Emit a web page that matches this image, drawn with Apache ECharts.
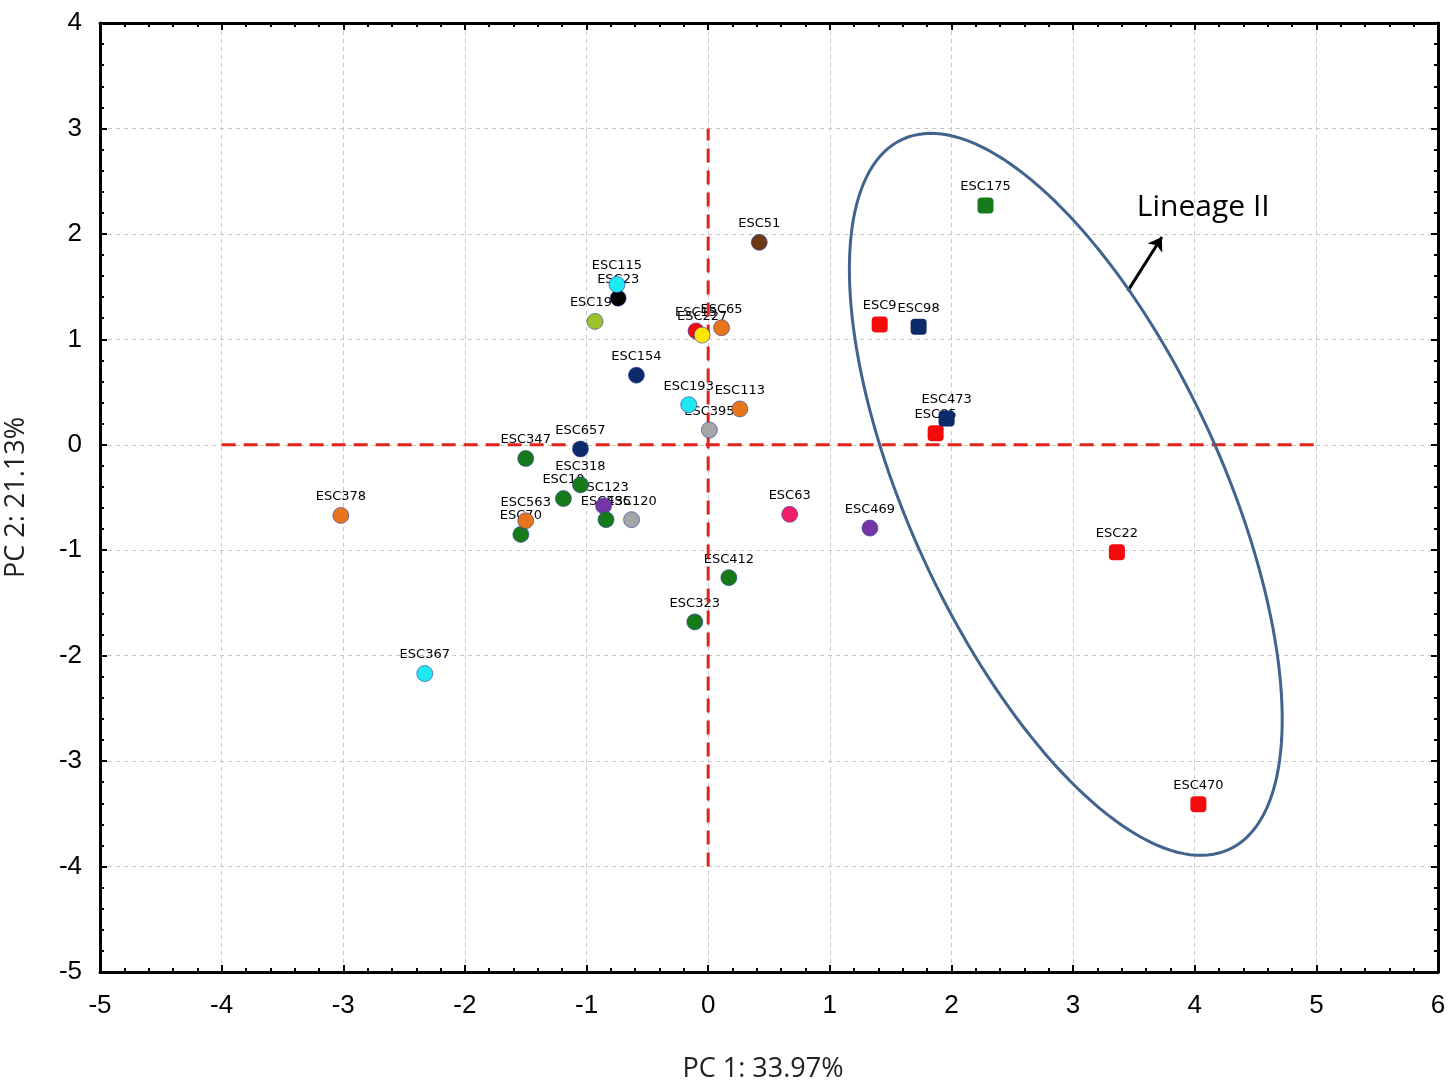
<!DOCTYPE html>
<html lang="en">
<head>
    <meta charset="UTF-8"/>
    <title>PCA</title>
    <script src="https://cdn.jsdelivr.net/npm/echarts@6/dist/echarts.min.js"></script>
</head>
<body style="margin:0;background:#fff">
<div id="main" style="width:1450px;height:1087px"></div>

<script type="text/javascript">
    // isolates
    var names = ['ESC23', 'ESC115', 'ESC190', 'ESC15', 'ESC227', 'ESC65', 'ESC154', 'ESC193', 'ESC113', 'ESC395',
        'ESC51', 'ESC657', 'ESC347', 'ESC318', 'ESC10', 'ESC123', 'ESC435', 'ESC120', 'ESC70', 'ESC563',
        'ESC378', 'ESC367', 'ESC323', 'ESC412', 'ESC63', 'ESC469',
        'ESC175', 'ESC9', 'ESC98', 'ESC85', 'ESC473', 'ESC22', 'ESC470'];
    var pc1 = [-0.74, -0.75, -0.93, -0.10, -0.05, 0.11, -0.59, -0.16, 0.26, 0.01,
        0.42, -1.05, -1.50, -1.05, -1.19, -0.86, -0.84, -0.63, -1.54, -1.50,
        -3.02, -2.33, -0.11, 0.17, 0.67, 1.33,
        2.28, 1.41, 1.73, 1.87, 1.96, 3.36, 4.03];
    var pc2 = [1.39, 1.52, 1.17, 1.08, 1.04, 1.11, 0.66, 0.38, 0.34, 0.14,
        1.92, -0.04, -0.13, -0.38, -0.51, -0.58, -0.71, -0.71, -0.85, -0.72,
        -0.67, -2.17, -1.68, -1.26, -0.66, -0.79,
        2.27, 1.14, 1.12, 0.11, 0.25, -1.02, -3.41];
    var group = ['black', 'cyan', 'lime', 'red', 'yellow', 'orange', 'navy', 'cyan', 'orange', 'gray',
        'brown', 'navy', 'green', 'green', 'green', 'purple', 'green', 'gray', 'green', 'orange',
        'orange', 'cyan', 'green', 'green', 'pink', 'purple',
        'green', 'red', 'navy', 'red', 'navy', 'red', 'red'];
    var lineage = ['I', 'I', 'I', 'I', 'I', 'I', 'I', 'I', 'I', 'I',
        'I', 'I', 'I', 'I', 'I', 'I', 'I', 'I', 'I', 'I',
        'I', 'I', 'I', 'I', 'I', 'I',
        'II', 'II', 'II', 'II', 'II', 'II', 'II'];

    // origin cross and the lineage II ellipse (data units)
    var hLine = [[-4, 0], [5, 0]];
    var vLine = [[0, -4], [0, 3]];
    var ellCenter = [2.94, -0.47];
    var ellMajor = [1.343, -3.367];
    var ellMinor = [-1.167, -0.620];
    var arrowFrom = [3.45, 1.46];
    var arrowTo = [3.73, 1.97];
    var tagPos = [4.07, 2.25];

    var groupColor = {
        black: '#050505', cyan: '#1de9f2', lime: '#9dc22c', red: '#f40c0c', yellow: '#ffe600',
        orange: '#e8741c', navy: '#0d2b6b', gray: '#a6a6a6', brown: '#6b3a12', green: '#167a18',
        purple: '#7634a4', pink: '#f2206c'
    };

    var all = [], circles = [], squares = [];
    for (var i = 0; i < names.length; i++) {
        var item = {name: names[i], value: [pc1[i], pc2[i]], itemStyle: {color: groupColor[group[i]]}};
        all.push({name: names[i], value: [pc1[i], pc2[i]]});
        if (lineage[i] === 'II') squares.push(item); else circles.push(item);
    }

    var tickStyle = {color: '#000', width: 2};
    var tickLbl = {color: '#000', fontSize: 26, fontFamily: 'Liberation Sans'};
    var titleStyle = {color: '#222', fontSize: 27, fontFamily: 'Open Sans'};

    var myChart = echarts.init(document.getElementById('main'));
    var option = {
        animation: false,
        grid: {left: 100, right: 12, top: 23, bottom: 115, outerBoundsMode: 'none', containLabel: false},
        xAxis: [{
            type: 'value', min: -5, max: 6, interval: 1, position: 'bottom',
            axisLine: {onZero: false, lineStyle: {color: '#000', width: 3}},
            axisTick: {inside: true, length: 7, lineStyle: tickStyle},
            minorTick: {show: true, splitNumber: 5, length: 4, lineStyle: tickStyle},
            axisLabel: Object.assign({margin: 21}, tickLbl),
            splitLine: {lineStyle: {color: '#c6c6c6', type: [4, 4]}},
            name: 'PC 1: 33.97%', nameLocation: 'middle', nameGap: 84,
            nameTextStyle: Object.assign({padding: [0, 12, 0, 0]}, titleStyle)
        }, {
            type: 'value', min: -5, max: 6, interval: 1, position: 'top',
            axisLine: {onZero: false, lineStyle: {color: '#000', width: 3}},
            axisTick: {inside: true, length: 7, lineStyle: tickStyle},
            minorTick: {show: true, splitNumber: 5, length: 4, lineStyle: tickStyle},
            axisLabel: {show: false}, splitLine: {show: false}
        }],
        yAxis: [{
            type: 'value', min: -5, max: 4, interval: 1, position: 'left',
            axisLine: {onZero: false, lineStyle: {color: '#000', width: 3}},
            axisTick: {inside: true, length: 7, lineStyle: tickStyle},
            minorTick: {show: true, splitNumber: 5, length: 4, lineStyle: tickStyle},
            axisLabel: Object.assign({margin: 18}, tickLbl),
            splitLine: {lineStyle: {color: '#c6c6c6', type: [4, 4]}},
            name: 'PC 2: 21.13%', nameLocation: 'middle', nameGap: 70, nameTextStyle: titleStyle
        }, {
            type: 'value', min: -5, max: 4, interval: 1, position: 'right',
            axisLine: {onZero: false, lineStyle: {color: '#000', width: 3}},
            axisTick: {inside: true, length: 7, lineStyle: tickStyle},
            minorTick: {show: true, splitNumber: 5, length: 4, lineStyle: tickStyle},
            axisLabel: {show: false}, splitLine: {show: false}
        }],
        series: [
            {   // names, drawn under the markers
                type: 'scatter', z: 2, silent: true, data: all, symbolSize: 16,
                itemStyle: {color: 'rgba(0,0,0,0)', opacity: 1},
                label: {
                    show: true, position: 'top', distance: 4, formatter: '{b}',
                    color: '#000', fontSize: 13, fontFamily: 'DejaVu Sans'
                }
            },
            {
                type: 'line', z: 3, data: hLine, symbol: 'none', silent: true,
                lineStyle: {color: '#e2231a', width: 3, type: [14, 8]}
            },
            {
                type: 'line', z: 3, data: vLine, symbol: 'none', silent: true,
                lineStyle: {color: '#e2231a', width: 3, type: [14, 8]}
            },
            {
                type: 'scatter', z: 4, symbol: 'circle', symbolSize: 16, data: circles,
                itemStyle: {opacity: 1, borderColor: 'rgba(40,60,160,0.6)', borderWidth: 1}
            },
            {
                type: 'scatter', z: 4, symbol: 'roundRect', symbolSize: 16, data: squares,
                itemStyle: {opacity: 1}
            },
            {
                type: 'custom', z: 5, silent: true, data: [ellCenter],
                renderItem: function (params, api) {
                    var pts = [];
                    for (var k = 0; k <= 180; k++) {
                        var t = k / 180 * 2 * Math.PI, c = Math.cos(t), s = Math.sin(t);
                        pts.push(api.coord([ellCenter[0] + ellMajor[0] * c + ellMinor[0] * s,
                            ellCenter[1] + ellMajor[1] * c + ellMinor[1] * s]));
                    }
                    return {type: 'polyline', shape: {points: pts}, style: {stroke: '#42638e', lineWidth: 3, fill: null}};
                }
            },
            {
                type: 'line', z: 5, data: [], silent: true,
                markLine: {
                    silent: true, symbol: ['none', 'arrow'], symbolSize: 13, label: {show: false},
                    lineStyle: {color: '#000', width: 3, type: 'solid'},
                    data: [[{coord: arrowFrom}, {coord: arrowTo}]]
                }
            },
            {
                type: 'scatter', z: 5, silent: true, symbolSize: 0,
                itemStyle: {opacity: 1},
                data: [{name: 'Lineage II', value: tagPos}],
                label: {show: true, position: 'inside', formatter: '{b}', color: '#000', fontSize: 30, fontFamily: 'Open Sans'}
            }
        ]
    };
    myChart.setOption(option);
</script>
</body>
</html>
